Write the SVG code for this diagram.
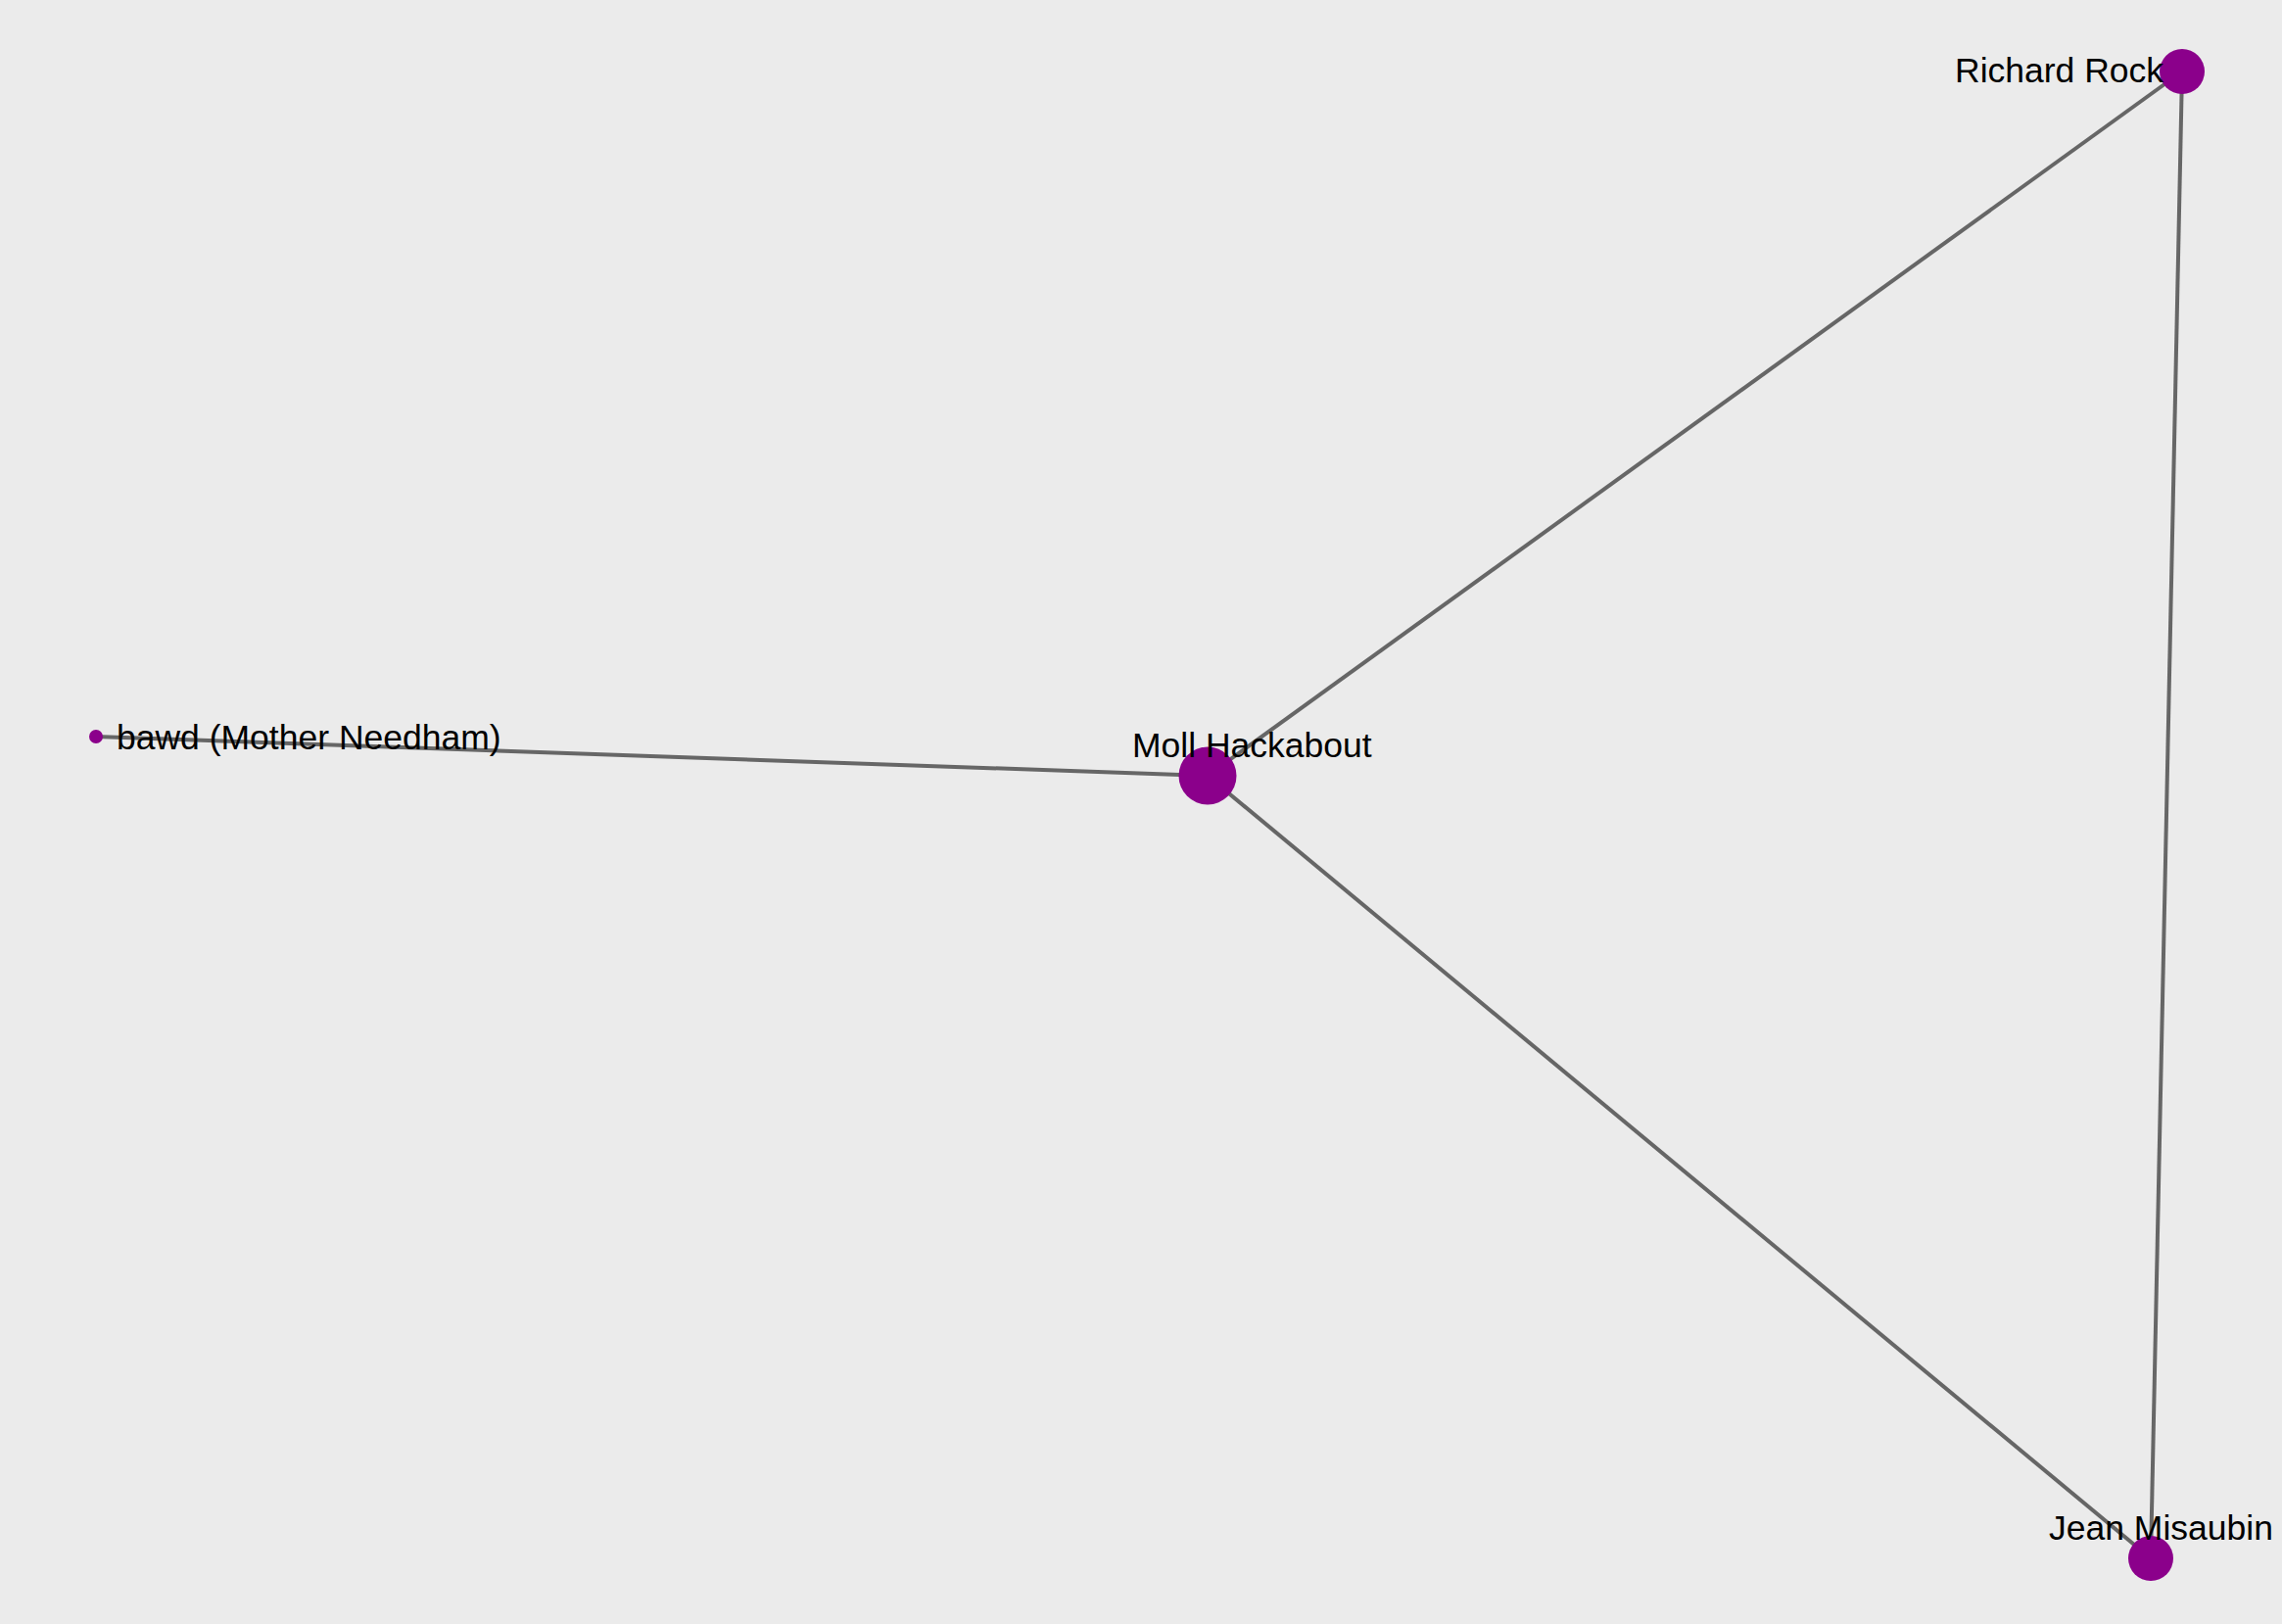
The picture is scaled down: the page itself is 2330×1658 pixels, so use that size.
<svg xmlns="http://www.w3.org/2000/svg" width="2330" height="1658" viewBox="0 0 2330 1658">
<style>
.edge{stroke:#666666;stroke-width:4;fill:none}
.node{fill:#8b008b}
.lbl{font-family:"Liberation Sans",Arial,sans-serif;font-size:35.5px;fill:#000000}
</style>
<rect width="2330" height="1658" fill="#ebebeb"/>
<g id="edges">
<line class="edge" x1="1233" y1="792" x2="2228" y2="73"/>
<line class="edge" x1="1233" y1="792" x2="98" y2="752"/>
<line class="edge" x1="1233" y1="792" x2="2196" y2="1591"/>
<line class="edge" x1="2228" y1="73" x2="2196" y2="1591"/>
</g>
<g id="node-richard-rock"><circle class="node" cx="2228" cy="73" r="23"/><text class="lbl" x="1996" y="84">Richard Rock</text></g>
<g id="node-moll-hackabout"><circle class="node" cx="1233" cy="792" r="29.5"/><text class="lbl" x="1156" y="773">Moll Hackabout</text></g>
<g id="node-bawd"><circle class="node" cx="98" cy="752" r="7"/><text class="lbl" x="119" y="765">bawd (Mother Needham)</text></g>
<g id="node-jean-misaubin"><circle class="node" cx="2196" cy="1591" r="23"/><text class="lbl" x="2092" y="1572">Jean Misaubin</text></g>
</svg>
